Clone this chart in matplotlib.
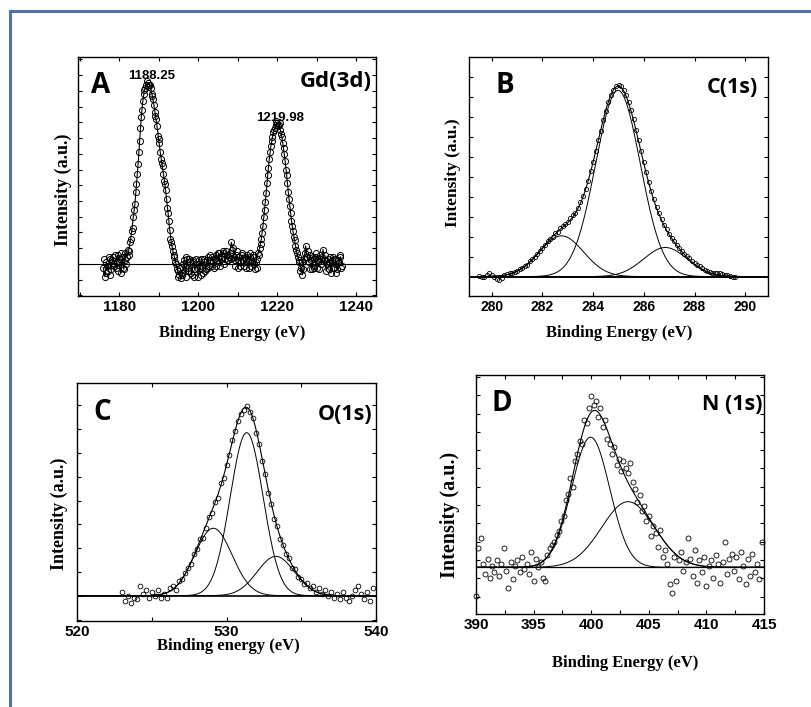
import numpy as np
import matplotlib
matplotlib.use('Agg')
import matplotlib.pyplot as plt
from matplotlib.ticker import MultipleLocator, NullFormatter
from matplotlib.lines import Line2D

# ---------------- data ----------------
# Panel A : Gd(3d), two interleaved scans (energy grid start/step, intensities; baseline = 0)
a_start, a_step = 1176.0, 0.4
a_intensity = [
    -0.02, -0.07, 0.01, -0.04, 0.03, -0.03, 0.04, 0.00, -0.02, 0.05,
    0.01, -0.05, 0.04, -0.03, 0.06, 0.04, 0.07, 0.12, 0.18, 0.26,
    0.33, 0.44, 0.55, 0.68, 0.81, 0.90, 0.96, 0.99, 1.00, 0.99,
    0.97, 0.93, 0.88, 0.82, 0.76, 0.69, 0.62, 0.56, 0.50, 0.44,
    0.36, 0.28, 0.19, 0.12, 0.07, 0.04, 0.00, -0.04, -0.06, -0.08,
    -0.05, 0.02, -0.07, 0.03, -0.04, 0.01, -0.06, 0.02, -0.03, 0.00,
    -0.07, -0.02, 0.03, -0.05, 0.01, -0.03, 0.04, -0.01, 0.02, 0.04,
    -0.02, 0.05, 0.02, 0.06, -0.01, 0.04, 0.07, 0.03, 0.05, 0.02,
    0.06, 0.12, 0.09, 0.02, 0.05, -0.02, 0.04, 0.01, 0.05, -0.01,
    0.03, 0.05, -0.02, 0.04, 0.01, 0.04, -0.03, 0.03, 0.06, 0.09,
    0.14, 0.21, 0.30, 0.39, 0.49, 0.58, 0.65, 0.70, 0.74, 0.77,
    0.78, 0.77, 0.74, 0.70, 0.64, 0.57, 0.49, 0.40, 0.32, 0.24,
    0.18, 0.13, 0.08, 0.04, 0.01, -0.02, -0.06, 0.03, 0.10, 0.04,
    0.01, 0.05, -0.03, 0.03, 0.04, -0.02, 0.02, 0.05, 0.00, 0.08,
    0.02, -0.04, 0.03, 0.01, -0.05, 0.04, -0.02, 0.02, -0.03, 0.01,
    0.04, -0.01,
]
a2_start, a2_step = 1176.2, 0.4
a2_intensity = [
    0.03, -0.05, -0.01, 0.04, -0.06, 0.02, -0.01, 0.05, 0.01, -0.04,
    0.03, 0.06, -0.02, 0.02, 0.00, 0.08, 0.05, 0.14, 0.20, 0.30,
    0.40, 0.50, 0.62, 0.75, 0.85, 0.94, 0.97, 1.01, 0.98, 0.99,
    0.94, 0.91, 0.84, 0.80, 0.71, 0.67, 0.58, 0.54, 0.46, 0.41,
    0.31, 0.24, 0.14, 0.10, 0.05, 0.01, -0.03, -0.07, -0.02, -0.06,
    0.00, -0.04, 0.04, -0.02, 0.03, -0.05, 0.01, -0.07, 0.03, -0.02,
    0.02, -0.06, -0.01, 0.03, -0.04, 0.02, -0.02, 0.05, -0.01, 0.01,
    0.03, -0.01, 0.06, 0.01, 0.03, 0.06, 0.00, 0.07, 0.02, 0.04,
    0.03, 0.08, 0.04, -0.01, 0.07, 0.02, -0.01, 0.06, 0.02, 0.04,
    -0.02, 0.02, 0.06, -0.01, 0.05, 0.00, 0.01, -0.02, 0.05, 0.11,
    0.17, 0.26, 0.34, 0.45, 0.53, 0.62, 0.68, 0.73, 0.75, 0.79,
    0.76, 0.78, 0.72, 0.67, 0.61, 0.52, 0.45, 0.36, 0.28, 0.21,
    0.15, 0.10, 0.06, 0.02, -0.04, 0.01, -0.03, 0.06, 0.04, 0.07,
    -0.03, 0.02, 0.04, -0.02, 0.06, 0.01, -0.03, 0.03, 0.04, 0.02,
    0.05, 0.00, -0.03, 0.04, 0.02, -0.02, 0.03, -0.05, 0.02, 0.05,
    -0.02,
]
a_peak_labels = ['1188.25', '1219.98']
a_peak_label_x = [1188.25, 1220.8]
a_peak_label_y = [1.025, 0.79]

# Panel B : C(1s)
b_start, b_step = 279.5, 0.1
b_intensity = [
    0.002, -0.004, 0.000, 0.008, 0.018, 0.010, -0.002, -0.010, -0.016, -0.006,
    0.006, 0.012, 0.020, 0.018, 0.026, 0.030, 0.040, 0.044, 0.056, 0.062,
    0.078, 0.090, 0.100, 0.118, 0.134, 0.150, 0.162, 0.182, 0.196, 0.206,
    0.224, 0.232, 0.248, 0.262, 0.272, 0.284, 0.300, 0.316, 0.330, 0.356,
    0.384, 0.414, 0.452, 0.494, 0.542, 0.592, 0.648, 0.702, 0.752, 0.806,
    0.854, 0.900, 0.934, 0.962, 0.980, 0.986, 0.980, 0.962, 0.936, 0.902,
    0.858, 0.810, 0.756, 0.702, 0.646, 0.592, 0.540, 0.490, 0.442, 0.400,
    0.360, 0.326, 0.296, 0.268, 0.244, 0.222, 0.200, 0.182, 0.164, 0.148,
    0.132, 0.118, 0.104, 0.094, 0.082, 0.072, 0.060, 0.054, 0.046, 0.036,
    0.030, 0.024, 0.020, 0.018, 0.020, 0.016, 0.012, 0.010, 0.006, 0.004,
    -0.002, -0.004,
]
b_centers = [282.75, 284.98, 286.85]
b_heights = [0.21, 0.96, 0.15]
b_widths = [0.87, 0.88, 0.86]

# Panel C : O(1s)
c_start, c_step = 523.0, 0.2
c_intensity = [
    0.02, -0.03, 0.00, -0.04, -0.01, -0.02, 0.05, 0.01, 0.03, -0.01,
    0.02, 0.00, 0.03, -0.01, 0.01, -0.01, 0.04, 0.05, 0.03, 0.08,
    0.09, 0.12, 0.15, 0.17, 0.22, 0.25, 0.30, 0.31, 0.36, 0.42,
    0.44, 0.50, 0.52, 0.60, 0.63, 0.70, 0.75, 0.83, 0.88, 0.93,
    0.97, 0.99, 1.01, 0.98, 0.95, 0.87, 0.81, 0.72, 0.65, 0.55,
    0.49, 0.41, 0.37, 0.30, 0.27, 0.22, 0.20, 0.15, 0.14, 0.10,
    0.09, 0.06, 0.07, 0.04, 0.05, 0.02, 0.04, 0.01, 0.03, 0.00,
    0.02, -0.01, 0.01, -0.02, 0.02, -0.01, -0.03, 0.00, 0.03, 0.05,
    0.01, -0.02, 0.02, -0.03, 0.04,
]
c_centers = [529.12, 531.35, 533.30]
c_heights = [0.36, 0.87, 0.21]
c_widths = [1.25, 1.10, 1.25]

# Panel D : N(1s)
d_start, d_step = 390.0, 0.2
d_intensity = [
    -0.17, 0.11, 0.17, 0.02, -0.04, 0.05, -0.06, 0.01, -0.03, 0.04,
    -0.05, 0.02, 0.11, -0.02, -0.12, 0.03, -0.07, 0.01, 0.04, -0.03,
    0.06, -0.01, 0.02, -0.04, 0.09, -0.08, 0.05, 0.00, 0.03, -0.06,
    -0.08, 0.07, 0.11, 0.13, 0.15, 0.19, 0.21, 0.27, 0.30, 0.39,
    0.43, 0.52, 0.47, 0.62, 0.66, 0.74, 0.72, 0.86, 0.84, 0.93,
    1.00, 0.95, 0.97, 0.88, 0.93, 0.82, 0.86, 0.75, 0.72, 0.66,
    0.70, 0.60, 0.63, 0.56, 0.62, 0.58, 0.55, 0.61, 0.50, 0.46,
    0.38, 0.42, 0.33, 0.36, 0.27, 0.30, 0.18, 0.24, 0.20, 0.12,
    0.22, 0.06, 0.10, 0.02, -0.10, -0.15, 0.06, -0.08, 0.04, 0.09,
    -0.02, 0.03, 0.17, 0.05, -0.05, 0.10, -0.09, 0.04, -0.03, 0.06,
    -0.11, 0.01, 0.04, -0.06, 0.07, 0.02, -0.09, 0.03, 0.15, -0.04,
    0.05, 0.08, -0.02, 0.06, -0.07, 0.09, 0.01, -0.10, 0.05, -0.05,
    0.08, -0.03, 0.02, -0.07, 0.15,
]
d_centers = [399.95, 403.2]
d_heights = [0.76, 0.383]
d_widths = [1.66, 2.3]

x_labels = ['Binding Energy (eV)', 'Binding Energy (eV)',
            'Binding energy (eV)', 'Binding Energy (eV)']
y_label = 'Intensity (a.u.)'
panel_letters = ['A', 'B', 'C', 'D']
panel_titles = ['Gd(3d)', 'C(1s)', 'O(1s)', 'N (1s)']

# ---------------- figure ----------------
W, H = 811, 707
fig = plt.figure(figsize=(W / 100, H / 100), dpi=100)
fig.patch.set_facecolor('white')


def px_axes(l, r, t, b):
    return fig.add_axes([l / W, 1 - b / H, (r - l) / W, (b - t) / H])


def ftext(x, y, s, **kw):
    fig.text(x / W, 1 - y / H, s, **kw)


def gauss(x, c, h, s):
    return h * np.exp(-(x - c) ** 2 / (2 * s ** 2))


def energies(start, step, vals):
    return start + step * np.arange(len(vals))


SANS = 'Liberation Sans'
SERIF = 'Liberation Serif'
LET = 'Open Sans'


def style(ax, xlim, ylim, xmaj, xmin, ytick, yoff, fs):
    ax.set_xlim(*xlim)
    ax.set_ylim(*ylim)
    ax.xaxis.set_major_locator(MultipleLocator(xmaj))
    if xmin:
        ax.xaxis.set_minor_locator(MultipleLocator(xmin))
    ax.yaxis.set_major_locator(MultipleLocator(ytick, offset=yoff))
    ax.yaxis.set_major_formatter(NullFormatter())
    ax.tick_params(axis='both', which='both', direction='in', top=True,
                   right=True, length=3.2, width=0.8)
    ax.tick_params(axis='x', which='major', labelsize=fs, pad=3)
    for lab in ax.get_xticklabels():
        lab.set_fontfamily(SANS)
        lab.set_fontweight('bold')
    for sp in ax.spines.values():
        sp.set_linewidth(1.0)


# ---- Panel A ----
axA = px_axes(78, 376, 57, 296)
xa = energies(a_start, a_step, a_intensity)
xa2 = energies(a2_start, a2_step, a2_intensity)
axA.axhline(0, color='black', lw=0.8, zorder=1)
axA.plot(xa, a_intensity, color='black', lw=0.8, zorder=2)
axA.plot(xa, a_intensity, 'o', ms=4.4, mfc='none', mec='black', mew=0.7, zorder=3)
axA.plot(xa2, a2_intensity, 'o', ms=4.4, mfc='none', mec='black', mew=0.7, zorder=3)
for s, x, y in zip(a_peak_labels, a_peak_label_x, a_peak_label_y):
    axA.text(x, y, s, ha='center', va='baseline', fontsize=9.5,
             fontfamily=SANS, fontweight='bold', zorder=5)
style(axA, (1169.6, 1245.0), (-0.177, 1.144), 20, 10, 0.087, 0.0, 11)

# ---- Panel B ----
axB = px_axes(469, 768, 57, 296)
xb = energies(b_start, b_step, b_intensity)
gx = np.linspace(279.1, 290.9, 800)
axB.axhline(0, color='black', lw=1.4, zorder=1)
tot = np.zeros_like(gx)
for c, h, s in zip(b_centers, b_heights, b_widths):
    g = gauss(gx, c, h, s)
    tot += g
    axB.plot(gx, g, color='black', lw=0.7, zorder=2)
axB.plot(gx, tot, color='black', lw=0.8, zorder=2)
axB.plot(xb, b_intensity, 'o', ms=3.0, mfc='none', mec='black', mew=0.6, zorder=3)
style(axB, (279.1, 290.9), (-0.10, 1.132), 2, None, 0.103, 0.0, 10)

# ---- Panel C ----
axC = px_axes(77, 376, 383, 621)
xc = energies(c_start, c_step, c_intensity)
gx = np.linspace(520, 540, 800)
axC.axhline(0, color='black', lw=1.2, zorder=1)
tot = np.zeros_like(gx)
for c, h, s in zip(c_centers, c_heights, c_widths):
    g = gauss(gx, c, h, s)
    tot += g
    axC.plot(gx, g, color='black', lw=0.7, zorder=2)
axC.plot(gx, tot, color='black', lw=0.8, zorder=2)
axC.plot(xc, c_intensity, 'o', ms=3.4, mfc='none', mec='black', mew=0.6, zorder=3)
style(axC, (520, 540), (-0.135, 1.135), 10, 5, 0.127, 0.0, 11)

# ---- Panel D ----
axD = px_axes(476, 764, 375, 614)
xd = energies(d_start, d_step, d_intensity)
gx = np.linspace(390, 415, 800)
axD.axhline(0, color='black', lw=0.9, zorder=1)
tot = np.zeros_like(gx)
for c, h, s in zip(d_centers, d_heights, d_widths):
    g = gauss(gx, c, h, s)
    tot += g
    axD.plot(gx, g, color='black', lw=0.7, zorder=2)
axD.plot(gx, tot, color='black', lw=0.8, zorder=2)
axD.plot(xd, d_intensity, 'o', ms=3.6, mfc='none', mec='black', mew=0.6,
         zorder=3, clip_on=False)
style(axD, (390, 415), (-0.273, 1.123), 5, 2.5, 0.107, -0.172 + 0.107 * 2, 11)

# ---- panel letters / titles ----
letter_pos = [(91, 93), (495, 93), (93, 420), (492, 411)]
title_pos = [(372, 87), (758, 93), (372, 420), (763, 410)]
title_sizes = [16, 15.5, 15.5, 15.5]
for L, (x, y) in zip(panel_letters, letter_pos):
    ftext(x, y, L, ha='left', va='baseline', fontsize=20,
          fontfamily=LET, fontweight='bold')
for T, (x, y), fs in zip(panel_titles, title_pos, title_sizes):
    ftext(x, y, T, ha='right', va='baseline', fontsize=fs,
          fontfamily=LET, fontweight='bold')

# ---- axis labels ----
xl_pos = [(232, 333), (619, 333), (228, 646), (625, 663)]
for s, (x, y) in zip(x_labels, xl_pos):
    ftext(x, y, s, ha='center', va='center', fontsize=12,
          fontfamily=SERIF, fontweight='bold')
yl_pos = [(63, 190, 13), (453, 173, 12.5), (59, 514, 13), (450, 515, 14.5)]
for (x, y, fs) in yl_pos:
    ftext(x, y, y_label, ha='center', va='center', rotation=90, fontsize=fs,
          fontfamily=SERIF, fontweight='bold')

# ---- figure frame (left and top border) ----
bc = '#4f74aa'
fig.add_artist(Line2D([10 / W, 10 / W], [0, 1 - 11 / H], color=bc, lw=2.2,
                      transform=fig.transFigure, solid_capstyle='projecting'))
fig.add_artist(Line2D([10 / W, 1.0], [1 - 11 / H, 1 - 11 / H], color=bc, lw=2.2,
                      transform=fig.transFigure, solid_capstyle='projecting'))

fig.savefig('out.png', dpi=100, facecolor='white')
